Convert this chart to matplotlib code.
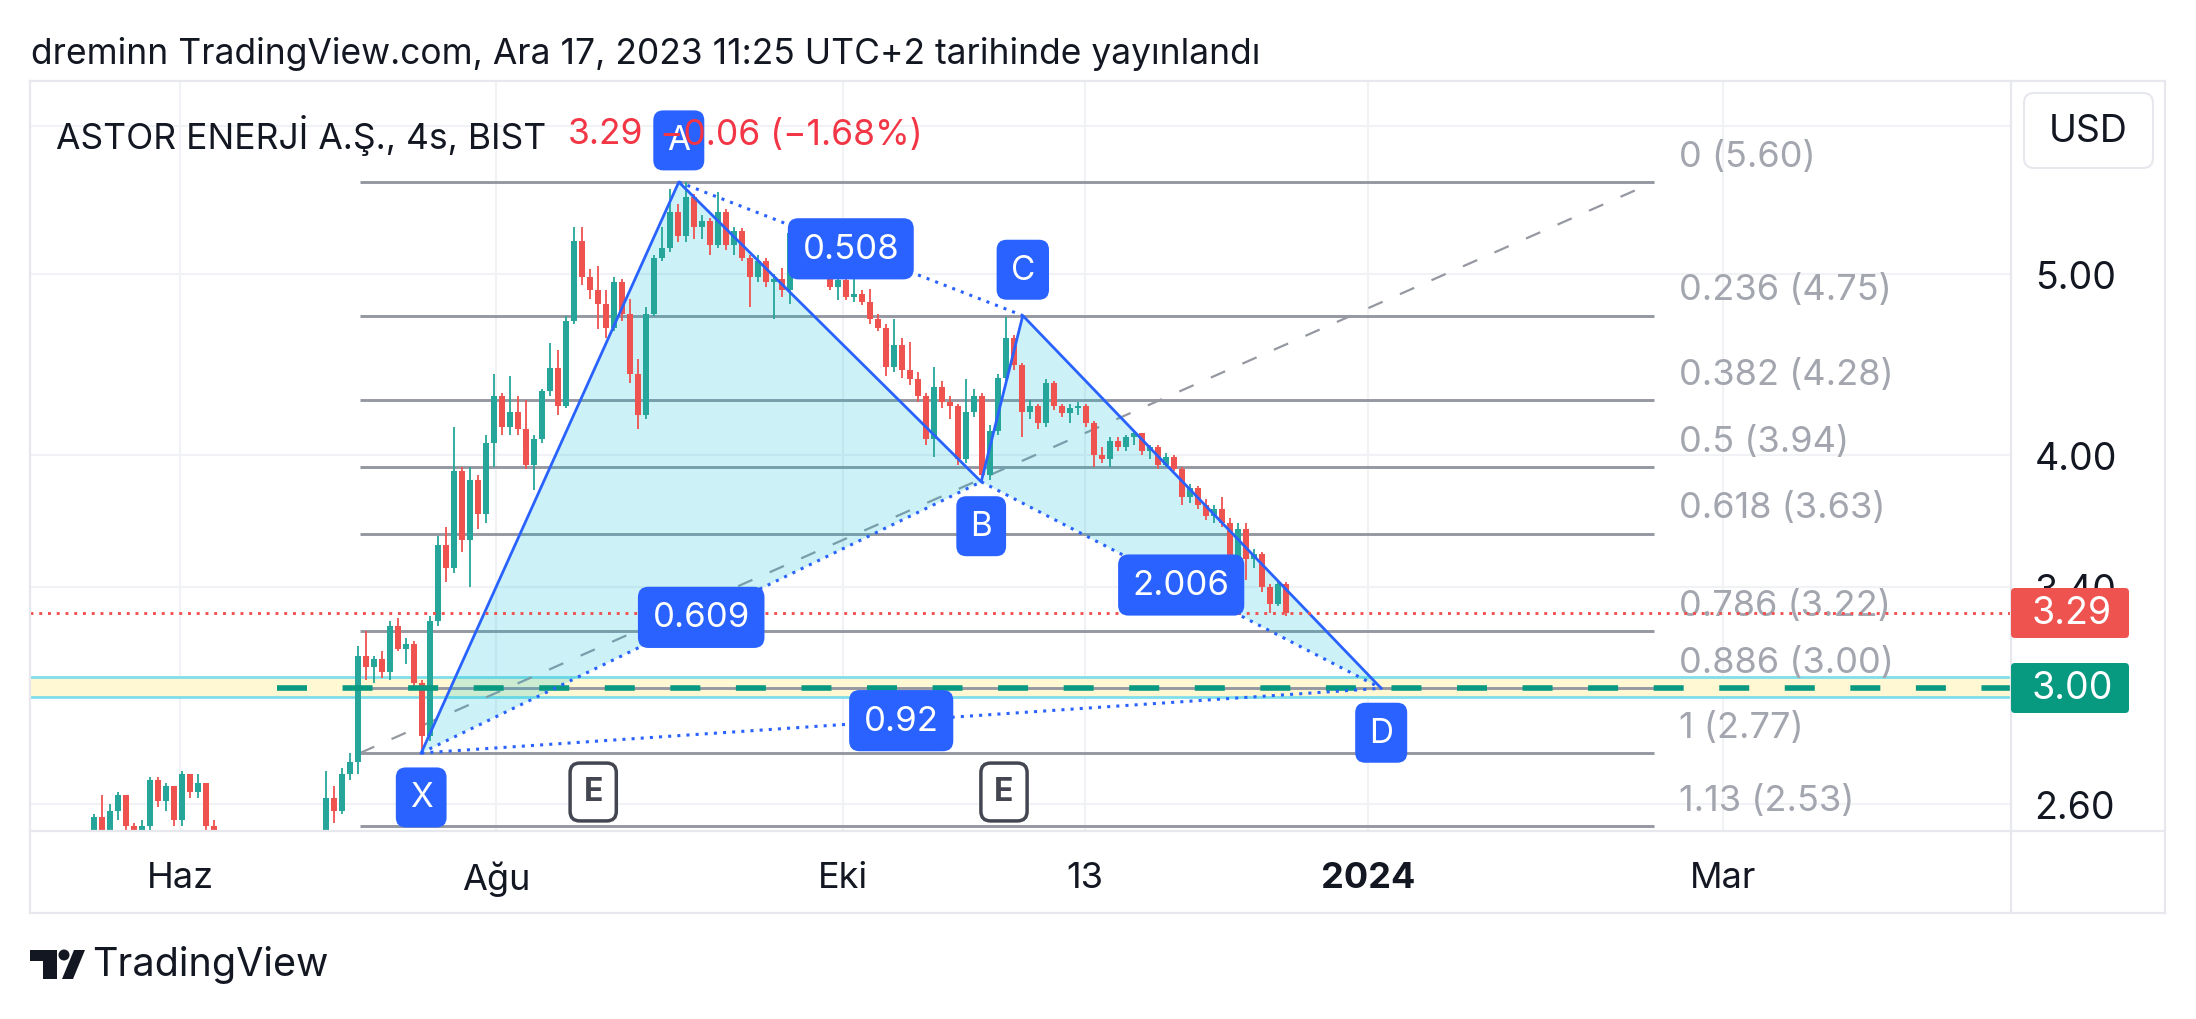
"""ASTOR 4h chart with an XABCD pattern and fib levels, TradingView style."""
import matplotlib

matplotlib.use("Agg")
import matplotlib.pyplot as plt
import matplotlib.transforms as mtransforms
import numpy as np
from matplotlib.lines import Line2D
from matplotlib.patches import Circle, FancyBboxPatch, Polygon
from matplotlib.ticker import NullLocator

plt.rcParams["font.family"] = ["Inter", "DejaVu Sans"]

# ---- data -------------------------------------------------------------
first_bar = 8
first_open = 2.48
highs = [
    2.57, 2.63, 2.60, 2.64, 2.63, 2.54, 2.55, 2.69, 2.69, 2.67,
    2.66, 2.71, 2.70, 2.70, 2.67, 2.55, 2.51, 2.48, 2.46, 2.47,
    2.46, 2.42, 2.42, 2.45, 2.44, 2.46, 2.49, 2.48, 2.50, 2.71,
    2.66, 2.72, 2.77, 3.16, 3.22, 3.12, 3.14, 3.26, 3.27, 3.19,
    3.18, 3.03, 3.28, 3.62, 3.66, 4.14, 3.94, 3.94, 3.90, 4.10,
    4.42, 4.32, 4.41, 4.30, 4.28, 4.10, 4.34, 4.59, 4.55, 4.75,
    5.30, 5.30, 5.03, 5.05, 4.90, 4.98, 4.97, 4.85, 4.50, 4.80,
    5.12, 5.30, 5.55, 5.45, 5.60, 5.52, 5.38, 5.36, 5.53, 5.42,
    5.30, 5.29, 5.12, 5.12, 5.10, 5.00, 5.04, 5.31, 5.30, 5.22,
    5.14, 5.10, 5.05, 4.98, 4.98, 5.00, 4.90, 4.91, 4.76, 4.70,
    4.73, 4.62, 4.60, 4.43, 4.32, 4.46, 4.38, 4.30, 4.26, 4.39,
    4.34, 4.32, 4.15, 4.42, 4.74, 4.64, 4.48, 4.28, 4.26, 4.39,
    4.38, 4.26, 4.26, 4.27, 4.26, 4.17, 4.04, 4.09, 4.09, 4.10,
    4.12, 4.11, 4.05, 4.05, 4.01, 4.00, 3.94, 3.86, 3.85, 3.79,
    3.76, 3.80, 3.70, 3.68, 3.68, 3.56, 3.55, 3.41, 3.43, 3.42,
]
lows = [
    2.45, 2.46, 2.48, 2.55, 2.50, 2.46, 2.47, 2.52, 2.59, 2.58,
    2.53, 2.53, 2.62, 2.62, 2.50, 2.47, 2.44, 2.42, 2.40, 2.41,
    2.39, 2.36, 2.37, 2.39, 2.39, 2.40, 2.43, 2.43, 2.44, 2.48,
    2.54, 2.57, 2.68, 2.70, 3.03, 3.02, 3.04, 3.03, 3.14, 3.09,
    3.01, 2.77, 2.81, 3.24, 3.42, 3.46, 3.55, 3.40, 3.65, 3.68,
    3.94, 4.10, 4.10, 4.10, 3.93, 3.83, 4.06, 4.30, 4.20, 4.24,
    4.70, 4.93, 4.85, 4.67, 4.62, 4.66, 4.72, 4.37, 4.13, 4.18,
    4.75, 5.08, 5.14, 5.20, 5.20, 5.22, 5.22, 5.12, 5.16, 5.15,
    5.12, 5.08, 4.80, 4.95, 4.92, 4.73, 4.86, 4.82, 5.15, 5.10,
    4.99, 4.97, 4.90, 4.84, 4.84, 4.83, 4.81, 4.70, 4.66, 4.41,
    4.43, 4.40, 4.36, 4.27, 4.05, 3.99, 4.24, 4.18, 3.95, 3.96,
    4.19, 3.87, 3.88, 4.10, 4.38, 4.44, 4.09, 4.18, 4.13, 4.14,
    4.23, 4.19, 4.16, 4.20, 4.14, 3.94, 3.96, 3.94, 4.02, 4.02,
    4.05, 4.00, 3.98, 3.93, 3.94, 3.92, 3.76, 3.77, 3.74, 3.69,
    3.68, 3.66, 3.40, 3.47, 3.43, 3.48, 3.38, 3.29, 3.32, 3.28,
]
closes = [
    2.56, 2.50, 2.58, 2.63, 2.53, 2.49, 2.53, 2.68, 2.61, 2.66,
    2.55, 2.70, 2.64, 2.67, 2.53, 2.50, 2.46, 2.44, 2.42, 2.45,
    2.41, 2.38, 2.40, 2.43, 2.41, 2.44, 2.47, 2.45, 2.49, 2.62,
    2.58, 2.70, 2.74, 3.12, 3.08, 3.11, 3.06, 3.24, 3.15, 3.17,
    3.02, 2.83, 3.26, 3.58, 3.48, 3.92, 3.60, 3.88, 3.72, 4.06,
    4.30, 4.14, 4.22, 4.13, 3.95, 4.08, 4.33, 4.45, 4.25, 4.72,
    5.21, 4.98, 4.90, 4.82, 4.68, 4.95, 4.76, 4.42, 4.20, 4.76,
    5.10, 5.16, 5.40, 5.24, 5.50, 5.30, 5.34, 5.18, 5.40, 5.18,
    5.27, 5.10, 4.98, 5.08, 4.95, 4.97, 4.90, 5.26, 5.18, 5.13,
    5.01, 5.04, 4.92, 4.96, 4.86, 4.88, 4.83, 4.73, 4.68, 4.46,
    4.58, 4.44, 4.39, 4.30, 4.08, 4.35, 4.27, 4.25, 3.98, 4.22,
    4.30, 3.90, 4.12, 4.40, 4.62, 4.47, 4.22, 4.25, 4.16, 4.37,
    4.25, 4.21, 4.24, 4.25, 4.16, 4.00, 3.98, 4.07, 4.04, 4.09,
    4.11, 4.02, 4.04, 3.95, 3.99, 3.93, 3.80, 3.84, 3.76, 3.71,
    3.74, 3.68, 3.48, 3.65, 3.52, 3.54, 3.40, 3.33, 3.41, 3.29,
]

pattern_names = ["X", "A", "B", "C", "D"]
pattern_bars = [48.9, 81.1, 118.9, 124.1, 168.9]
pattern_prices = [2.77, 5.60, 3.87, 4.75, 3.00]
ratio_legs = [("X", "B"), ("A", "C"), ("B", "D"), ("X", "D")]
ratio_labels = ["0.609", "0.508", "2.006", "0.92"]

fib_levels = ["0", "0.236", "0.382", "0.5", "0.618", "0.786", "0.886", "1", "1.13"]
fib_prices = [5.60, 4.75, 4.28, 3.94, 3.63, 3.22, 3.00, 2.77, 2.53]
fib_bars = [41.25, 203.0]
fib_anchor_prices = [2.77, 5.60]

last_price = 3.29
change_text = "\u22120.06 (\u22121.68%)"
alert_price = 3.00
alert_start_bar = 30.9
zone_prices = [2.968, 3.042]
event_bars = [70.4, 121.75]

time_ticks = [18.75, 58.25, 101.6, 131.9, 167.25, 211.6]
time_labels = ["Haz", "Ağu", "Eki", "13", "2024", "Mar"]
price_ticks = [2.6, 3.4, 4.0, 5.0, 6.0]
price_labels = ["2.60", "3.40", "4.00", "5.00", ""]

# ---- style ------------------------------------------------------------
W, H = 2196, 1020
TEXT = "#131722"
UP = "#26a69a"
DOWN = "#ef5350"
BLUE = "#2962ff"
GRAY = "#9598a1"
BORDER = "#e6e8ee"

fig = plt.figure(figsize=(W / 100, H / 100), dpi=100)
fig.patch.set_facecolor("white")
px_trans = fig.dpi_scale_trans


def fx(px):
    return px / W


def fy(py):
    return 1 - py / H


def pt(px, py):
    return px / 100, (H - py) / 100


def fig_box(x0, y0, x1, y1, fc, ec="none", lw=0, r=4):
    xy = pt(x0, y1)
    patch = FancyBboxPatch(
        xy, (x1 - x0) / 100, (y1 - y0) / 100,
        boxstyle=f"round,pad=0,rounding_size={r / 100}",
        fc=fc, ec=ec, lw=lw, transform=px_trans, zorder=2,
    )
    fig.add_artist(patch)


PL, PR, PT, PB = 30, 2011, 82, 832
ax = fig.add_axes([fx(PL), fy(PB), fx(PR) - fx(PL), fy(PT) - fy(PB)])
ax.set_yscale("log")
ax.set_xlim(0, (PR - PL) / 8)
ax.set_ylim(2.516, 6.343)
for spine in ax.spines.values():
    spine.set_visible(False)
ax.set_axisbelow(True)
ax.grid(True, color="#f0f2f6", lw=1.5)
ax.yaxis.set_minor_locator(NullLocator())
ax.yaxis.tick_right()
ax.set_yticks(price_ticks, price_labels)
ax.set_xticks(time_ticks, time_labels)
ax.tick_params(axis="y", length=0, pad=17, labelsize=27, labelcolor=TEXT)
ax.tick_params(axis="x", length=0, pad=21.5, labelsize=26, labelcolor=TEXT)
ax.get_xticklabels()[4].set_fontweight("bold")

# alert zone and line
ax.axhspan(zone_prices[0], zone_prices[1], color="#fff8d2", lw=0, zorder=0.8)
for p in zone_prices:
    ax.axhline(p, color="#80deea", lw=2, zorder=0.9)

# fib retracement
ax.hlines(fib_prices, fib_bars[0], fib_bars[1], colors=GRAY, lw=2.1, zorder=1)
ax.plot(fib_bars, fib_anchor_prices, color=GRAY, lw=1.6, ls=(0, (7, 8.5)), zorder=1.1)
for level, price in zip(fib_levels, fib_prices):
    ax.annotate(f"{level} ({price:.2f})", (206.1, price), xytext=(0, 18.5),
                textcoords="offset points", ha="left", va="center",
                fontsize=26, color="#a3a6af", zorder=1.2)

# pattern fill
ax.fill(pattern_bars[:3], pattern_prices[:3], color="#00bcd4", alpha=0.2, lw=0, zorder=1.5)
ax.fill(pattern_bars[2:], pattern_prices[2:], color="#00bcd4", alpha=0.2, lw=0, zorder=1.5)

# candles
c = np.array(closes)
o = np.array([first_open] + closes[:-1])
x = np.arange(first_bar, first_bar + len(c))
cols = np.where(c >= o, UP, DOWN)
ax.vlines(x, lows, highs, colors=cols, lw=1.3, zorder=2)
bottom = np.minimum(o, c)
height = np.maximum(np.abs(c - o), 0.006)
ax.bar(x, height, bottom=bottom, width=0.7, color=cols, lw=0, zorder=2.1)

ax.hlines(alert_price, alert_start_bar, (PR - PL) / 8, colors="#089981", lw=4,
          linestyles=(0, (5.4, 6.4)), zorder=3)

# pattern legs
ax.plot(pattern_bars, pattern_prices, color=BLUE, lw=2, zorder=3.2)
pos = dict(zip(pattern_names, zip(pattern_bars, pattern_prices)))
for (a, b), text in zip(ratio_legs, ratio_labels):
    (xa, ya), (xb, yb) = pos[a], pos[b]
    ax.plot([xa, xb], [ya, yb], color=BLUE, lw=2.2, ls=(0, (1, 2)), zorder=3.2)
    ax.text((xa + xb) / 2, np.sqrt(ya * yb), text, ha="center", va="center",
            fontsize=25, color="white", zorder=6,
            bbox=dict(boxstyle="round,pad=0.42,rounding_size=0.3", fc=BLUE, ec="none"))

ax.axhline(last_price, color=DOWN, lw=2.1, ls=(0, (1, 2)), zorder=3.5)

offsets = {"X": -32, "A": 30, "B": -32, "C": 33, "D": -32}
for name, bar, price in zip(pattern_names, pattern_bars, pattern_prices):
    ax.annotate(name, (bar, price), xytext=(0, offsets[name]), textcoords="offset points",
                ha="center", va="center", fontsize=24, color="white", zorder=6,
                bbox=dict(boxstyle="round,pad=0.42,rounding_size=0.3", fc=BLUE, ec="none"))

ev_trans = mtransforms.blended_transform_factory(ax.transData, ax.transAxes)
for bar in event_bars:
    ax.text(bar, 0.052, "E", transform=ev_trans, ha="center", va="center",
            fontsize=23, fontweight="bold", color="#434651", zorder=6,
            bbox=dict(boxstyle="round,pad=0.42,rounding_size=0.3", fc="white",
                      ec="#434651", lw=2.5))

# ---- pane frame -------------------------------------------------------
for (x0, y0), (x1, y1) in [
    ((PL, PT), (2165, PT)), ((PL, PT), (PL, 914)), ((2165, PT), (2165, 914)),
    ((PL, 914), (2165, 914)), ((PR, PT), (PR, 914)), ((PL, PB), (2165, PB)),
]:
    (a0, b0), (a1, b1) = pt(x0, y0), pt(x1, y1)
    fig.add_artist(Line2D([a0, a1], [b0, b1], color=BORDER, lw=1.6, transform=px_trans))

# price axis badges
fig_box(2011, 589, 2129, 639, DOWN)
fig.text(fx(2072), fy(614), f"{last_price:.2f}", color="white", fontsize=27,
         ha="center", va="center")
fig_box(2011, 664, 2129, 714, "#089981")
fig.text(fx(2072), fy(689), f"{alert_price:.2f}", color="white", fontsize=27,
         ha="center", va="center")
fig_box(2024, 94, 2153, 169, "white", ec=BORDER, lw=1.5, r=10)
fig.text(fx(2088), fy(132), "USD", color=TEXT, fontsize=27, ha="center", va="center")

# header texts
fig.text(fx(31), fy(54), "dreminn TradingView.com, Ara 17, 2023 11:25 UTC+2 tarihinde yayınlandı",
         color=TEXT, fontsize=25.5, ha="left", va="center")
fig.text(fx(56), fy(135), "ASTOR ENERJİ A.Ş., 4s, BIST", color=TEXT, fontsize=25.5,
         ha="left", va="center", zorder=7)
fig.text(fx(568), fy(135), f"{last_price:.2f}", color="#f23645", fontsize=25.5,
         ha="left", va="center", zorder=7)
fig.text(fx(660), fy(135), change_text, color="#f23645", fontsize=25.5,
         ha="left", va="center", zorder=7)

# logo
fig.add_artist(Polygon([pt(30, 951), pt(57, 951), pt(57, 980), pt(43, 980), pt(43, 962), pt(30, 962)],
                       closed=True, fc=TEXT, ec="none", transform=px_trans))
fig.add_artist(Circle(pt(64, 956), 0.055, fc=TEXT, ec="none", transform=px_trans))
fig.add_artist(Polygon([pt(62, 980), pt(73, 980), pt(85, 951), pt(74, 951)],
                       closed=True, fc=TEXT, ec="none", transform=px_trans))
fig.text(fx(92), fy(965), "TradingView", color=TEXT, fontsize=28.5, ha="left", va="center")

fig.savefig("out.png", dpi=100, facecolor="white")
